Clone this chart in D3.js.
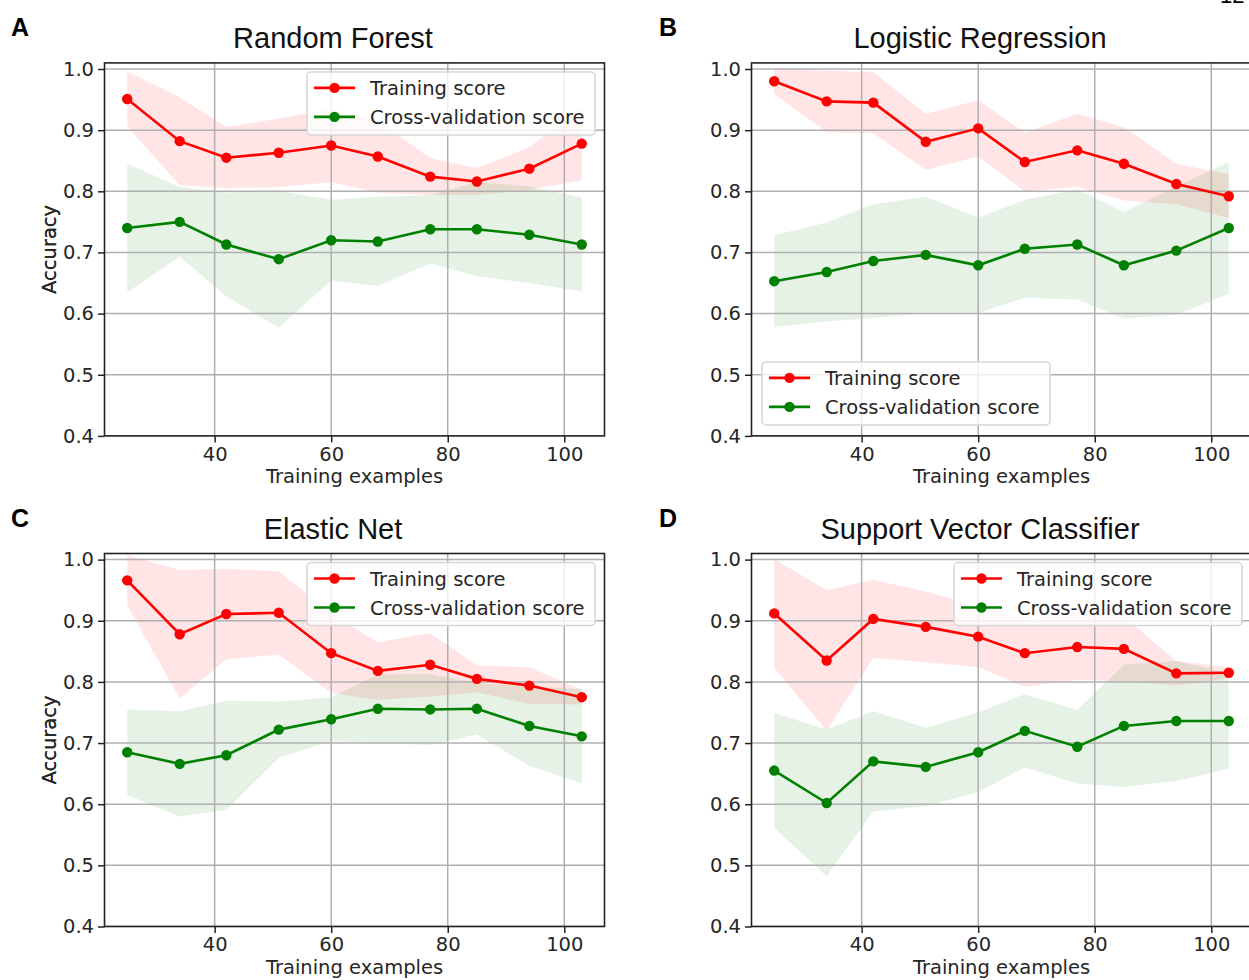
<!DOCTYPE html>
<html>
<head>
<meta charset="utf-8">
<script src="https://cdn.jsdelivr.net/npm/d3@7"></script>
<style>
  body { margin: 0; background: #fff; }
  svg text { font-family: "DejaVu Sans", sans-serif; }
  .tick text { font-size: 19.5px; fill: #262626; }
  .tick line { stroke: #222; stroke-width: 1.5; }
</style>
</head>
<body>
<svg id="chart" width="1249" height="980"></svg>
<script>
// training set sizes (same for every model)
const trainSizes = [25, 34, 42, 51, 60, 68, 77, 85, 94, 103];

// Random Forest
const rfTrain    = [0.951, 0.882, 0.855, 0.863, 0.875, 0.857, 0.824, 0.816, 0.837, 0.878];
const rfTrainStd = [0.045, 0.072, 0.050, 0.056, 0.060, 0.059, 0.030, 0.022, 0.035, 0.060];
const rfCv       = [0.740, 0.750, 0.713, 0.689, 0.720, 0.718, 0.738, 0.738, 0.729, 0.713];
const rfCvStd    = [0.105, 0.057, 0.085, 0.112, 0.066, 0.073, 0.056, 0.077, 0.079, 0.077];

// Logistic Regression
const lrTrain    = [0.980, 0.947, 0.945, 0.881, 0.903, 0.848, 0.867, 0.845, 0.812, 0.792];
const lrTrainStd = [0.021, 0.050, 0.050, 0.046, 0.046, 0.048, 0.060, 0.060, 0.033, 0.036];
const lrCv       = [0.653, 0.668, 0.686, 0.696, 0.679, 0.706, 0.713, 0.679, 0.703, 0.740];
const lrCvStd    = [0.075, 0.081, 0.093, 0.095, 0.078, 0.080, 0.090, 0.087, 0.105, 0.108];

// Elastic Net
const enTrain    = [0.966, 0.878, 0.911, 0.913, 0.847, 0.818, 0.828, 0.805, 0.794, 0.775];
const enTrainStd = [0.041, 0.105, 0.074, 0.068, 0.065, 0.047, 0.052, 0.022, 0.030, 0.012];
const enCv       = [0.685, 0.666, 0.680, 0.722, 0.739, 0.756, 0.755, 0.756, 0.728, 0.711];
const enCvStd    = [0.070, 0.086, 0.089, 0.046, 0.036, 0.056, 0.058, 0.042, 0.065, 0.077];

// Support Vector Classifier
const svTrain    = [0.912, 0.835, 0.903, 0.890, 0.874, 0.847, 0.857, 0.854, 0.814, 0.815];
const svTrainStd = [0.089, 0.115, 0.064, 0.058, 0.050, 0.055, 0.054, 0.053, 0.020, 0.009];
const svCv       = [0.655, 0.602, 0.670, 0.661, 0.685, 0.720, 0.694, 0.728, 0.736, 0.736];
const svCvStd    = [0.094, 0.120, 0.082, 0.064, 0.065, 0.060, 0.060, 0.100, 0.098, 0.078];

const xTicks = [40, 60, 80, 100];
const yTicks = [0.4, 0.5, 0.6, 0.7, 0.8, 0.9, 1.0];
const legendLabels = ['Training score', 'Cross-validation score'];

const panels = [
  {letter: 'A', title: 'Random Forest', train: rfTrain, trainStd: rfTrainStd, cv: rfCv, cvStd: rfCvStd, legend: 'upper right', col: 0, row: 0},
  {letter: 'B', title: 'Logistic Regression', train: lrTrain, trainStd: lrTrainStd, cv: lrCv, cvStd: lrCvStd, legend: 'lower left', col: 1, row: 0},
  {letter: 'C', title: 'Elastic Net', train: enTrain, trainStd: enTrainStd, cv: enCv, cvStd: enCvStd, legend: 'upper right', col: 0, row: 1},
  {letter: 'D', title: 'Support Vector Classifier', train: svTrain, trainStd: svTrainStd, cv: svCv, cvStd: svCvStd, legend: 'upper right', col: 1, row: 1}
];

const colLeft = [104.5, 751.5];
const rowTop = [62.9, 553.5];
const plotW = 500, plotH = 373;
const red = '#ff0000', green = '#008000';

const svg = d3.select('#chart');

// page number, cut off at the top edge
svg.append('text')
  .attr('x', 1220).attr('y', 3)
  .style('font-family', 'Liberation Sans, Arial, sans-serif')
  .style('font-size', '22px')
  .text('12');

panels.forEach((p, i) => {
  const left = colLeft[p.col], top = rowTop[p.row];
  const g = svg.append('g').attr('transform', `translate(${left},${top})`);

  const x = d3.scaleLinear().domain([21.1, 106.9]).range([0, plotW]);
  const y = d3.scaleLinear().domain([0.4, 1.01]).range([plotH, 0]);

  const clipId = 'clip' + i;
  g.append('clipPath').attr('id', clipId)
    .append('rect').attr('width', plotW).attr('height', plotH);

  const plot = g.append('g').attr('clip-path', `url(#${clipId})`);

  // bands (mean +/- std)
  const band = (mean, std) => d3.area()
    .x((d, j) => x(trainSizes[j]))
    .y0((d, j) => y(mean[j] - std[j]))
    .y1((d, j) => y(mean[j] + std[j]))(mean);

  plot.append('path').attr('d', band(p.train, p.trainStd))
    .attr('fill', red).attr('fill-opacity', 0.1);
  plot.append('path').attr('d', band(p.cv, p.cvStd))
    .attr('fill', green).attr('fill-opacity', 0.1);

  // grid
  plot.selectAll('.gx').data(xTicks).enter().append('line')
    .attr('x1', d => x(d)).attr('x2', d => x(d))
    .attr('y1', 0).attr('y2', plotH)
    .attr('stroke', '#b0b0b0').attr('stroke-width', 1.5);
  plot.selectAll('.gy').data(yTicks).enter().append('line')
    .attr('x1', 0).attr('x2', plotW)
    .attr('y1', d => y(d)).attr('y2', d => y(d))
    .attr('stroke', '#b0b0b0').attr('stroke-width', 1.5);

  // lines + markers
  const line = d3.line().x((d, j) => x(trainSizes[j])).y(d => y(d));
  [[p.train, red], [p.cv, green]].forEach(([vals, col]) => {
    plot.append('path').attr('d', line(vals))
      .attr('fill', 'none').attr('stroke', col).attr('stroke-width', 2.6);
    plot.selectAll(null).data(vals).enter().append('circle')
      .attr('cx', (d, j) => x(trainSizes[j]))
      .attr('cy', d => y(d))
      .attr('r', 5.2)
      .attr('fill', col);
  });

  // axes
  const gx = g.append('g').attr('transform', `translate(0,${plotH})`)
    .call(d3.axisBottom(x).tickValues(xTicks).tickSize(6.5).tickPadding(4.5).tickFormat(d3.format('d')));
  gx.select('.domain').remove();
  const gy = g.append('g')
    .call(d3.axisLeft(y).tickValues(yTicks).tickSize(6.5).tickPadding(4).tickFormat(d3.format('.1f')));
  gy.select('.domain').remove();

  // spines
  g.append('rect').attr('width', plotW).attr('height', plotH)
    .attr('fill', 'none').attr('stroke', '#222').attr('stroke-width', 1.6);

  // axis labels
  g.append('text')
    .attr('x', plotW / 2).attr('y', plotH + 47.5)
    .attr('text-anchor', 'middle')
    .style('font-size', '19.5px').style('fill', '#262626')
    .text('Training examples');
  g.append('text')
    .attr('transform', `translate(${55.5 - left},${plotH / 2}) rotate(-90)`)
    .attr('text-anchor', 'middle')
    .style('font-size', '19.5px').style('fill', '#262626')
    .text('Accuracy');

  // title and panel letter
  g.append('text')
    .attr('x', 333 + p.col * 647 - left).attr('y', -14.6)
    .attr('text-anchor', 'middle')
    .style('font-family', 'Liberation Sans, Arial, sans-serif')
    .style('font-size', '29px').style('fill', '#111')
    .text(p.title);
  g.append('text')
    .attr('x', 11 + p.col * 648 - left).attr('y', -27)
    .style('font-family', 'Liberation Sans, Arial, sans-serif')
    .style('font-size', '25px').style('font-weight', 'bold')
    .text(p.letter);

  // legend
  const lw = 288, lh = 63;
  const lx = p.legend === 'upper right' ? plotW - 9.5 - lw : 10.5;
  const ly = p.legend === 'upper right' ? 9 : plotH - 11 - lh;
  const lg = g.append('g').attr('transform', `translate(${lx},${ly})`);
  lg.append('rect').attr('width', lw).attr('height', lh).attr('rx', 4)
    .attr('fill', '#fff').attr('fill-opacity', 0.8)
    .attr('stroke', '#d6d6d6').attr('stroke-width', 1.5);
  [red, green].forEach((col, k) => {
    const cy = 16 + k * 29;
    lg.append('line').attr('x1', 7).attr('x2', 48).attr('y1', cy).attr('y2', cy)
      .attr('stroke', col).attr('stroke-width', 2.6);
    lg.append('circle').attr('cx', 27.5).attr('cy', cy).attr('r', 5.2).attr('fill', col);
    lg.append('text').attr('x', 63).attr('y', cy + 7)
      .style('font-size', '19.5px').style('fill', '#262626')
      .text(legendLabels[k]);
  });
});
</script>
</body>
</html>
